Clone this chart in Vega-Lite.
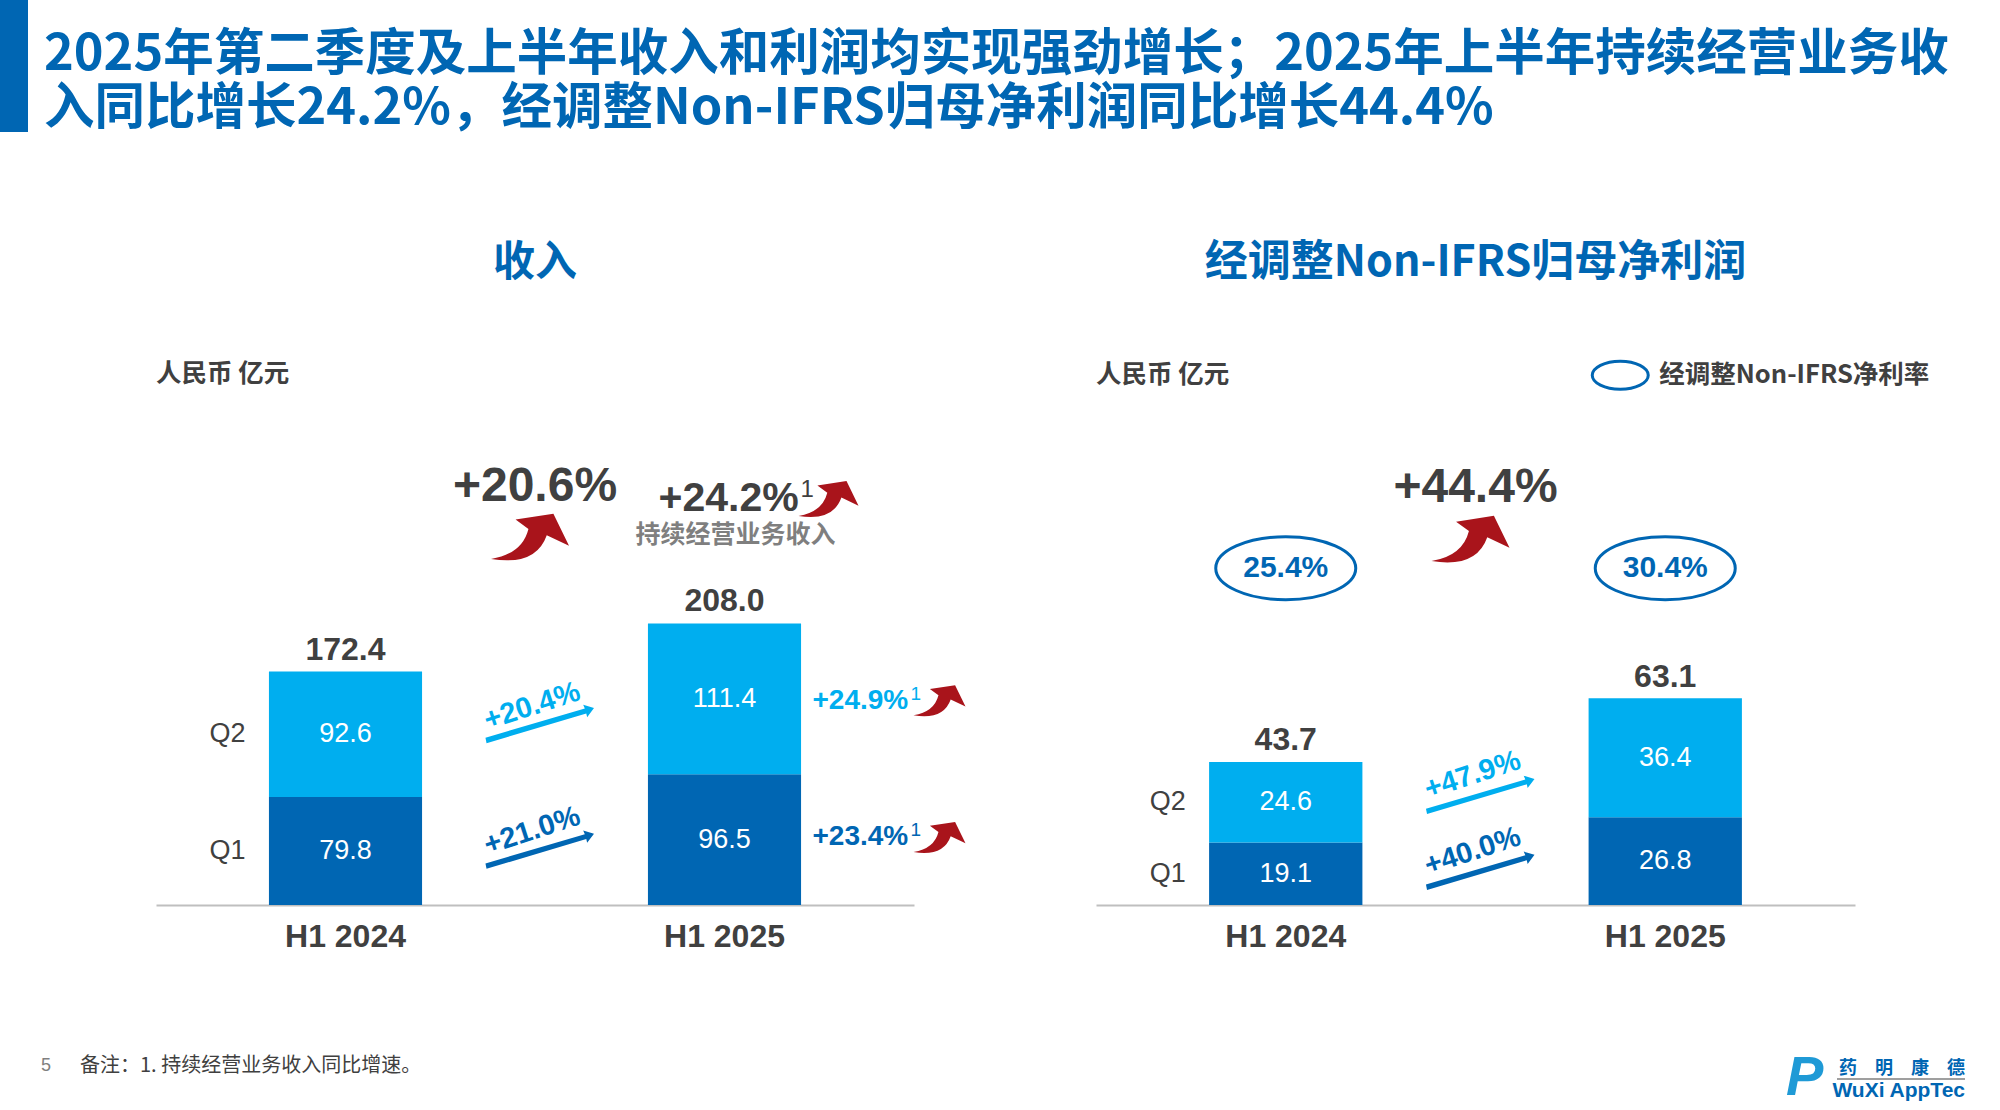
{
  "$schema": "https://vega.github.io/schema/vega-lite/v6.json",
  "background": "white",
  "padding": 0,
  "spacing": 85,
  "config": {
    "view": {"stroke": null},
    "font": "Liberation Sans",
    "text": {"font": "Liberation Sans", "color": "#404040"}
  },
  "vconcat": [
    {
      "width": 2000,
      "height": 132,
      "data": {"values": [{"text": "2025年第二季度及上半年收入和利润均实现强劲增长；2025年上半年持续经营业务收\n入同比增长24.2%，经调整Non-IFRS归母净利润同比增长44.4%"}]},
      "layer": [
        {
          "mark": {"type": "rect", "color": "#0066b3"},
          "encoding": {
            "x": {"datum": 0, "type": "quantitative", "scale": {"domain": [0, 100], "nice": false}, "axis": null},
            "x2": {"datum": 1.4},
            "y": {"datum": 0, "type": "quantitative", "scale": {"domain": [0, 1], "nice": false}, "axis": null},
            "y2": {"datum": 1}
          }
        },
        {
          "mark": {"type": "text", "font": "Noto Sans CJK SC", "fontWeight": "bold", "fontSize": 50.5, "color": "#0066b3", "align": "left", "baseline": "middle", "lineBreak": "\n", "lineHeight": 54},
          "encoding": {
            "x": {"datum": 2.2, "type": "quantitative"},
            "y": {"datum": 0.584, "type": "quantitative"},
            "text": {"field": "text"}
          }
        }
      ]
    },
    {
      "spacing": 0,
      "hconcat": [
        {
          "width": 1000,
          "height": 685,
          "layer": [
            {
              "data": {"values": [
                {"period": "H1 2024", "quarter": "Q1", "value": 79.8},
                {"period": "H1 2024", "quarter": "Q2", "value": 92.6},
                {"period": "H1 2025", "quarter": "Q1", "value": 96.5},
                {"period": "H1 2025", "quarter": "Q2", "value": 111.4}
              ]},
              "layer": [
                {
                  "mark": {"type": "bar", "width": {"band": 0.404}},
                  "encoding": {
                    "x": {"field": "period", "type": "nominal", "scale": {"domain": ["H1 2024", "H1 2025"], "range": [156, 914], "padding": 0},
                      "axis": {"title": null, "labelAngle": 0, "ticks": false, "domainColor": "#bfbfbf", "domainWidth": 2, "labelFont": "Liberation Sans", "labelFontSize": 32, "labelFontWeight": "bold", "labelColor": "#404040", "labelPadding": 16}},
                    "y": {"field": "value", "type": "quantitative", "stack": "zero", "scale": {"domain": [0, 505.9], "nice": false}, "axis": null},
                    "color": {"field": "quarter", "type": "nominal", "scale": {"domain": ["Q1", "Q2"], "range": ["#0066b3", "#00aeef"]}, "legend": null},
                    "order": {"field": "quarter"}
                  }
                },
                {
                  "mark": {"type": "text", "fontSize": 27, "color": "white"},
                  "encoding": {
                    "x": {"field": "period", "type": "nominal"},
                    "y": {"field": "value", "type": "quantitative", "stack": "zero", "bandPosition": 0.5},
                    "order": {"field": "quarter"},
                    "text": {"field": "value", "format": ".1f"}
                  }
                },
                {
                  "transform": [{"filter": "datum.period == 'H1 2024'"}],
                  "mark": {"type": "text", "fontSize": 27, "color": "#404040", "xOffset": -118},
                  "encoding": {
                    "x": {"field": "period", "type": "nominal"},
                    "y": {"field": "value", "type": "quantitative", "stack": "zero", "bandPosition": 0.5},
                    "order": {"field": "quarter"},
                    "text": {"field": "quarter"}
                  }
                }
              ]
            },
            {
              "data": {"values": [{"period": "H1 2024", "total": 172.4}, {"period": "H1 2025", "total": 208.0}]},
              "mark": {"type": "text", "fontSize": 32, "fontWeight": "bold", "baseline": "bottom", "dy": -5},
              "encoding": {
                "x": {"field": "period", "type": "nominal"},
                "y": {"field": "total", "type": "quantitative"},
                "text": {"field": "total", "format": ".1f"}
              }
            },
            {
              "data": {"values": [{"period": "H1 2024", "label": "收入"}]},
              "mark": {"type": "text", "font": "Noto Sans CJK SC", "fontWeight": "bold", "fontSize": 42, "color": "#0066b3"},
              "encoding": {
                "x": {"field": "period", "type": "nominal", "bandPosition": 1},
                "y": {"datum": 474, "type": "quantitative"},
                "text": {"field": "label"}
              }
            },
            {
              "data": {"values": [{"period": "H1 2024", "label": "人民币 亿元"}]},
              "mark": {"type": "text", "font": "Noto Sans CJK SC", "fontWeight": "bold", "fontSize": 25.5, "align": "left"},
              "encoding": {
                "x": {"field": "period", "type": "nominal", "bandPosition": 0},
                "y": {"datum": 392, "type": "quantitative"},
                "text": {"field": "label"}
              }
            },
            {
              "data": {"values": [{"period": "H1 2024", "label": "+20.6%"}]},
              "mark": {"type": "text", "fontSize": 48, "fontWeight": "bold"},
              "encoding": {
                "x": {"field": "period", "type": "nominal", "bandPosition": 1},
                "y": {"datum": 309, "type": "quantitative"},
                "text": {"field": "label"}
              }
            },
            {
              "data": {"values": [{"period": "H1 2024", "label": "growth arrow"}]},
              "mark": {"type": "point", "shape": "M-1 0.57Q-0.2 0.44 -0.04 -0.2L-0.37 -0.44L0.6 -0.59L1 0.23L0.43 -0.04Q0.15 0.76 -1 0.57Z", "filled": true, "opacity": 1, "color": "#a9141b", "strokeWidth": 0, "size": 6084, "xOffset": -5},
              "encoding": {
                "x": {"field": "period", "type": "nominal", "bandPosition": 1},
                "y": {"datum": 272, "type": "quantitative"}
              }
            },
            {
              "data": {"values": [{"period": "H1 2025", "label": "+24.2%"}]},
              "mark": {"type": "text", "fontSize": 41, "fontWeight": "bold", "align": "left", "xOffset": -66},
              "encoding": {
                "x": {"field": "period", "type": "nominal"},
                "y": {"datum": 299.5, "type": "quantitative"},
                "text": {"field": "label"}
              }
            },
            {
              "data": {"values": [{"period": "H1 2025", "label": "1"}]},
              "mark": {"type": "text", "fontSize": 24, "align": "left", "xOffset": 76, "dy": -9},
              "encoding": {
                "x": {"field": "period", "type": "nominal"},
                "y": {"datum": 299.5, "type": "quantitative"},
                "text": {"field": "label"}
              }
            },
            {
              "data": {"values": [{"period": "H1 2025", "label": "growth arrow"}]},
              "mark": {"type": "point", "shape": "M-1 0.57Q-0.2 0.44 -0.04 -0.2L-0.37 -0.44L0.6 -0.59L1 0.23L0.43 -0.04Q0.15 0.76 -1 0.57Z", "filled": true, "opacity": 1, "color": "#a9141b", "strokeWidth": 0, "size": 3600, "xOffset": 104},
              "encoding": {
                "x": {"field": "period", "type": "nominal"},
                "y": {"datum": 300, "type": "quantitative"}
              }
            },
            {
              "data": {"values": [{"period": "H1 2025", "label": "持续经营业务收入"}]},
              "mark": {"type": "text", "font": "Noto Sans CJK SC", "fontWeight": "bold", "fontSize": 25, "color": "#7f7f7f", "xOffset": 11},
              "encoding": {
                "x": {"field": "period", "type": "nominal"},
                "y": {"datum": 273, "type": "quantitative"},
                "text": {"field": "label"}
              }
            },
            {
              "data": {"values": [{"period": "H1 2024", "quarter": "Q2", "label": "+20.4%"}]},
              "mark": {"type": "text", "fontSize": 29, "fontWeight": "bold", "angle": -18, "xOffset": -3},
              "encoding": {
                "x": {"field": "period", "type": "nominal", "bandPosition": 1},
                "y": {"datum": 147, "type": "quantitative"},
                "color": {"field": "quarter", "type": "nominal"},
                "text": {"field": "label"}
              }
            },
            {
              "data": {"values": [{"period": "H1 2024", "quarter": "Q1", "label": "+21.0%"}]},
              "mark": {"type": "text", "fontSize": 29, "fontWeight": "bold", "angle": -18, "xOffset": -3},
              "encoding": {
                "x": {"field": "period", "type": "nominal", "bandPosition": 1},
                "y": {"datum": 55, "type": "quantitative"},
                "color": {"field": "quarter", "type": "nominal"},
                "text": {"field": "label"}
              }
            },
            {
              "data": {"values": [{"period": "H1 2024", "quarter": "Q2"}]},
              "mark": {"type": "point", "shape": "M-0.99 0.35L0.857 -0.2L0.873 -0.13L1 -0.3L0.8 -0.36L0.83 -0.29L-1.01 0.25Z", "filled": true, "opacity": 1, "strokeWidth": 0, "size": 11664, "xOffset": 5},
              "encoding": {
                "x": {"field": "period", "type": "nominal", "bandPosition": 1},
                "y": {"datum": 133.5, "type": "quantitative"},
                "color": {"field": "quarter", "type": "nominal"}
              }
            },
            {
              "data": {"values": [{"period": "H1 2024", "quarter": "Q1"}]},
              "mark": {"type": "point", "shape": "M-0.99 0.35L0.857 -0.2L0.873 -0.13L1 -0.3L0.8 -0.36L0.83 -0.29L-1.01 0.25Z", "filled": true, "opacity": 1, "strokeWidth": 0, "size": 11664, "xOffset": 5},
              "encoding": {
                "x": {"field": "period", "type": "nominal", "bandPosition": 1},
                "y": {"datum": 40.7, "type": "quantitative"},
                "color": {"field": "quarter", "type": "nominal"}
              }
            },
            {
              "data": {"values": [{"period": "H1 2025", "quarter": "Q2", "label": "+24.9%"}]},
              "mark": {"type": "text", "fontSize": 28, "fontWeight": "bold", "align": "left", "xOffset": 88},
              "encoding": {
                "x": {"field": "period", "type": "nominal"},
                "y": {"datum": 151, "type": "quantitative"},
                "color": {"field": "quarter", "type": "nominal"},
                "text": {"field": "label"}
              }
            },
            {
              "data": {"values": [{"period": "H1 2025", "quarter": "Q1", "label": "+23.4%"}]},
              "mark": {"type": "text", "fontSize": 28, "fontWeight": "bold", "align": "left", "xOffset": 88},
              "encoding": {
                "x": {"field": "period", "type": "nominal"},
                "y": {"datum": 50, "type": "quantitative"},
                "color": {"field": "quarter", "type": "nominal"},
                "text": {"field": "label"}
              }
            },
            {
              "data": {"values": [{"period": "H1 2025", "label": "1"}]},
              "mark": {"type": "text", "fontSize": 19, "align": "left", "xOffset": 186, "dy": -7, "color": "#00aeef"},
              "encoding": {
                "x": {"field": "period", "type": "nominal"},
                "y": {"datum": 151, "type": "quantitative"},
                "text": {"field": "label"}
              }
            },
            {
              "data": {"values": [{"period": "H1 2025", "label": "1"}]},
              "mark": {"type": "text", "fontSize": 19, "align": "left", "xOffset": 186, "dy": -7, "color": "#0066b3"},
              "encoding": {
                "x": {"field": "period", "type": "nominal"},
                "y": {"datum": 50, "type": "quantitative"},
                "text": {"field": "label"}
              }
            },
            {
              "data": {"values": [{"period": "H1 2025", "label": "growth arrow"}]},
              "mark": {"type": "point", "shape": "M-1 0.57Q-0.2 0.44 -0.04 -0.2L-0.37 -0.44L0.6 -0.59L1 0.23L0.43 -0.04Q0.15 0.76 -1 0.57Z", "filled": true, "opacity": 1, "color": "#a9141b", "strokeWidth": 0, "size": 2704, "xOffset": 215},
              "encoding": {
                "x": {"field": "period", "type": "nominal"},
                "y": {"datum": 151, "type": "quantitative"}
              }
            },
            {
              "data": {"values": [{"period": "H1 2025", "label": "growth arrow"}]},
              "mark": {"type": "point", "shape": "M-1 0.57Q-0.2 0.44 -0.04 -0.2L-0.37 -0.44L0.6 -0.59L1 0.23L0.43 -0.04Q0.15 0.76 -1 0.57Z", "filled": true, "opacity": 1, "color": "#a9141b", "strokeWidth": 0, "size": 2704, "xOffset": 215},
              "encoding": {
                "x": {"field": "period", "type": "nominal"},
                "y": {"datum": 50, "type": "quantitative"}
              }
            }
          ]
        },
        {
          "width": 1000,
          "height": 685,
          "layer": [
            {
              "data": {"values": [
                {"period": "H1 2024", "quarter": "Q1", "value": 19.1},
                {"period": "H1 2024", "quarter": "Q2", "value": 24.6},
                {"period": "H1 2025", "quarter": "Q1", "value": 26.8},
                {"period": "H1 2025", "quarter": "Q2", "value": 36.4}
              ]},
              "layer": [
                {
                  "mark": {"type": "bar", "width": {"band": 0.404}},
                  "encoding": {
                    "x": {"field": "period", "type": "nominal", "scale": {"domain": ["H1 2024", "H1 2025"], "range": [96, 855], "padding": 0},
                      "axis": {"title": null, "labelAngle": 0, "ticks": false, "domainColor": "#bfbfbf", "domainWidth": 2, "labelFont": "Liberation Sans", "labelFontSize": 32, "labelFontWeight": "bold", "labelColor": "#404040", "labelPadding": 16}},
                    "y": {"field": "value", "type": "quantitative", "stack": "zero", "scale": {"domain": [0, 209.5], "nice": false}, "axis": null},
                    "color": {"field": "quarter", "type": "nominal", "scale": {"domain": ["Q1", "Q2"], "range": ["#0066b3", "#00aeef"]}, "legend": null},
                    "order": {"field": "quarter"}
                  }
                },
                {
                  "mark": {"type": "text", "fontSize": 27, "color": "white"},
                  "encoding": {
                    "x": {"field": "period", "type": "nominal"},
                    "y": {"field": "value", "type": "quantitative", "stack": "zero", "bandPosition": 0.5},
                    "order": {"field": "quarter"},
                    "text": {"field": "value", "format": ".1f"}
                  }
                },
                {
                  "transform": [{"filter": "datum.period == 'H1 2024'"}],
                  "mark": {"type": "text", "fontSize": 27, "color": "#404040", "xOffset": -118},
                  "encoding": {
                    "x": {"field": "period", "type": "nominal"},
                    "y": {"field": "value", "type": "quantitative", "stack": "zero", "bandPosition": 0.5},
                    "order": {"field": "quarter"},
                    "text": {"field": "quarter"}
                  }
                }
              ]
            },
            {
              "data": {"values": [{"period": "H1 2024", "total": 43.7}, {"period": "H1 2025", "total": 63.1}]},
              "mark": {"type": "text", "fontSize": 32, "fontWeight": "bold", "baseline": "bottom", "dy": -5},
              "encoding": {
                "x": {"field": "period", "type": "nominal"},
                "y": {"field": "total", "type": "quantitative"},
                "text": {"field": "total", "format": ".1f"}
              }
            },
            {
              "data": {"values": [{"period": "H1 2024", "label": "经调整Non-IFRS归母净利润"}]},
              "mark": {"type": "text", "font": "Noto Sans CJK SC", "fontWeight": "bold", "fontSize": 43, "color": "#0066b3"},
              "encoding": {
                "x": {"field": "period", "type": "nominal", "bandPosition": 1},
                "y": {"datum": 196.3, "type": "quantitative"},
                "text": {"field": "label"}
              }
            },
            {
              "data": {"values": [{"period": "H1 2024", "label": "人民币 亿元"}]},
              "mark": {"type": "text", "font": "Noto Sans CJK SC", "fontWeight": "bold", "fontSize": 25.5, "align": "left"},
              "encoding": {
                "x": {"field": "period", "type": "nominal", "bandPosition": 0},
                "y": {"datum": 162, "type": "quantitative"},
                "text": {"field": "label"}
              }
            },
            {
              "data": {"values": [{"period": "H1 2025", "label": "legend oval"}]},
              "mark": {"type": "point", "shape": "M-1 0A1 0.5 0 1 1 1 0A1 0.5 0 1 1 -1 0Z", "filled": false, "opacity": 1, "color": "#0066b3", "strokeWidth": 3, "size": 3136, "xOffset": -45},
              "encoding": {
                "x": {"field": "period", "type": "nominal"},
                "y": {"datum": 162, "type": "quantitative"}
              }
            },
            {
              "data": {"values": [{"period": "H1 2025", "label": "经调整Non-IFRS净利率"}]},
              "mark": {"type": "text", "font": "Noto Sans CJK SC", "fontWeight": "bold", "fontSize": 25.5, "align": "left", "xOffset": -6},
              "encoding": {
                "x": {"field": "period", "type": "nominal"},
                "y": {"datum": 162, "type": "quantitative"},
                "text": {"field": "label"}
              }
            },
            {
              "data": {"values": [{"period": "H1 2024", "label": "+44.4%"}]},
              "mark": {"type": "text", "fontSize": 48, "fontWeight": "bold"},
              "encoding": {
                "x": {"field": "period", "type": "nominal", "bandPosition": 1},
                "y": {"datum": 127.4, "type": "quantitative"},
                "text": {"field": "label"}
              }
            },
            {
              "data": {"values": [{"period": "H1 2024", "label": "growth arrow"}]},
              "mark": {"type": "point", "shape": "M-1 0.57Q-0.2 0.44 -0.04 -0.2L-0.37 -0.44L0.6 -0.59L1 0.23L0.43 -0.04Q0.15 0.76 -1 0.57Z", "filled": true, "opacity": 1, "color": "#a9141b", "strokeWidth": 0, "size": 6084, "xOffset": -5},
              "encoding": {
                "x": {"field": "period", "type": "nominal", "bandPosition": 1},
                "y": {"datum": 112, "type": "quantitative"}
              }
            },
            {
              "data": {"values": [{"period": "H1 2024", "margin": "25.4%"}, {"period": "H1 2025", "margin": "30.4%"}]},
              "layer": [
                {
                  "mark": {"type": "point", "shape": "M-1 0A1 0.45 0 1 1 1 0A1 0.45 0 1 1 -1 0Z", "filled": false, "opacity": 1, "color": "#0066b3", "strokeWidth": 3, "size": 19600},
                  "encoding": {
                    "x": {"field": "period", "type": "nominal"},
                    "y": {"datum": 103, "type": "quantitative"}
                  }
                },
                {
                  "mark": {"type": "text", "fontSize": 30, "fontWeight": "bold", "color": "#0066b3"},
                  "encoding": {
                    "x": {"field": "period", "type": "nominal"},
                    "y": {"datum": 103, "type": "quantitative"},
                    "text": {"field": "margin"}
                  }
                }
              ]
            },
            {
              "data": {"values": [{"period": "H1 2024", "quarter": "Q2", "label": "+47.9%"}]},
              "mark": {"type": "text", "fontSize": 29, "fontWeight": "bold", "angle": -18, "xOffset": -3},
              "encoding": {
                "x": {"field": "period", "type": "nominal", "bandPosition": 1},
                "y": {"datum": 39.8, "type": "quantitative"},
                "color": {"field": "quarter", "type": "nominal"},
                "text": {"field": "label"}
              }
            },
            {
              "data": {"values": [{"period": "H1 2024", "quarter": "Q1", "label": "+40.0%"}]},
              "mark": {"type": "text", "fontSize": 29, "fontWeight": "bold", "angle": -18, "xOffset": -3},
              "encoding": {
                "x": {"field": "period", "type": "nominal", "bandPosition": 1},
                "y": {"datum": 16.5, "type": "quantitative"},
                "color": {"field": "quarter", "type": "nominal"},
                "text": {"field": "label"}
              }
            },
            {
              "data": {"values": [{"period": "H1 2024", "quarter": "Q2"}]},
              "mark": {"type": "point", "shape": "M-0.99 0.35L0.857 -0.2L0.873 -0.13L1 -0.3L0.8 -0.36L0.83 -0.29L-1.01 0.25Z", "filled": true, "opacity": 1, "strokeWidth": 0, "size": 11664, "xOffset": 5},
              "encoding": {
                "x": {"field": "period", "type": "nominal", "bandPosition": 1},
                "y": {"datum": 33.6, "type": "quantitative"},
                "color": {"field": "quarter", "type": "nominal"}
              }
            },
            {
              "data": {"values": [{"period": "H1 2024", "quarter": "Q1"}]},
              "mark": {"type": "point", "shape": "M-0.99 0.35L0.857 -0.2L0.873 -0.13L1 -0.3L0.8 -0.36L0.83 -0.29L-1.01 0.25Z", "filled": true, "opacity": 1, "strokeWidth": 0, "size": 11664, "xOffset": 5},
              "encoding": {
                "x": {"field": "period", "type": "nominal", "bandPosition": 1},
                "y": {"datum": 10.4, "type": "quantitative"},
                "color": {"field": "quarter", "type": "nominal"}
              }
            }
          ]
        }
      ]
    },
    {
      "width": 2000,
      "height": 78,
      "layer": [
        {
          "data": {"values": [{"text": "5"}]},
          "mark": {"type": "text", "fontSize": 18, "color": "#7f7f7f", "align": "left"},
          "encoding": {
            "x": {"datum": 2.05, "type": "quantitative", "scale": {"domain": [0, 100], "nice": false}, "axis": null},
            "y": {"datum": 0.629, "type": "quantitative", "scale": {"domain": [0, 1], "nice": false}, "axis": null},
            "text": {"field": "text"}
          }
        },
        {
          "data": {"values": [{"text": "备注：1. 持续经营业务收入同比增速。"}]},
          "mark": {"type": "text", "font": "Noto Sans CJK SC", "fontSize": 20, "color": "#404040", "align": "left"},
          "encoding": {
            "x": {"datum": 4, "type": "quantitative"},
            "y": {"datum": 0.629, "type": "quantitative"},
            "text": {"field": "text"}
          }
        },
        {
          "data": {"values": [{"text": "P"}]},
          "mark": {"type": "text", "fontSize": 56, "fontWeight": "bold", "fontStyle": "italic", "color": "#1f9ad6", "align": "left"},
          "encoding": {
            "x": {"datum": 89.3, "type": "quantitative"},
            "y": {"datum": 0.477, "type": "quantitative"},
            "text": {"field": "text"}
          }
        },
        {
          "data": {"values": [{"text": "药　明　康　德"}]},
          "mark": {"type": "text", "font": "Noto Sans CJK SC", "fontSize": 18, "fontWeight": "bold", "color": "#0066b3", "align": "right"},
          "encoding": {
            "x": {"datum": 98.25, "type": "quantitative"},
            "y": {"datum": 0.592, "type": "quantitative"},
            "text": {"field": "text"}
          }
        },
        {
          "data": {"values": [{"text": "logo rule"}]},
          "mark": {"type": "rule", "color": "#7f7f7f", "strokeWidth": 1.5},
          "encoding": {
            "x": {"datum": 91.85, "type": "quantitative"},
            "x2": {"datum": 98.25},
            "y": {"datum": 0.462, "type": "quantitative"}
          }
        },
        {
          "data": {"values": [{"text": "WuXi AppTec"}]},
          "mark": {"type": "text", "fontSize": 21, "fontWeight": "bold", "color": "#0066b3", "align": "right"},
          "encoding": {
            "x": {"datum": 98.25, "type": "quantitative"},
            "y": {"datum": 0.31, "type": "quantitative"},
            "text": {"field": "text"}
          }
        }
      ]
    }
  ]
}
